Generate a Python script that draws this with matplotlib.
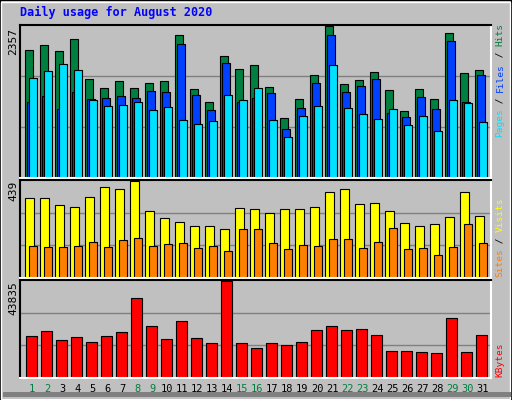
import matplotlib
matplotlib.use("Agg")
import matplotlib.pyplot as plt
from matplotlib.patches import Rectangle

days = list(range(1, 32))
hits = [1982,2052,1971,2148,1537,1393,1505,1393,1473,1505,2212,1377,1184,1891,1682,1746,1409,927,1216,1602,2357,1457,1521,1634,1361,1039,1377,1216,2245,1618,1666]
files = [1184,1264,1071,1329,1216,1232,1264,1232,1345,1329,2068,1280,1055,1779,1184,1232,1312,766,1087,1473,2212,1329,1425,1537,1007,943,1248,1071,2116,1184,1602]
pages = [1554,1650,1762,1666,1200,1120,1136,1184,1055,1104,895,830,879,1280,1200,1393,895,637,959,1120,1746,1087,991,911,1071,814,959,734,1200,1168,862]
visits = [363,363,329,320,367,410,401,439,305,272,253,234,234,220,315,310,296,310,310,320,391,401,334,339,301,248,234,243,277,387,282]
sites = [143,138,138,143,162,138,172,181,143,153,157,134,143,124,220,220,157,129,148,143,177,177,134,162,224,129,134,105,138,243,157]
kbytes = [18877,21277,16958,18397,16478,18877,20797,36155,23676,17437,25596,17917,15998,43835,15998,13598,15998,15038,16478,21757,23676,21757,22237,19357,12158,12158,11678,11198,27036,11678,19357]
weekend = [1,2,8,9,15,16,22,23,29,30]

W, H = 512, 400
fig = plt.figure(figsize=(5.12, 4.0), dpi=100, facecolor="#C0C0C0")
mono = "DejaVu Sans Mono"

fig.patches.append(Rectangle((0, 0), 1, 1, transform=fig.transFigure, fill=False, ec="black", lw=1.5))
fig.patches.append(Rectangle((1/W, 1/H), (W-3)/W, (H-3)/H, transform=fig.transFigure, fill=False, ec="white", lw=1))
fig.patches.append(Rectangle((3/W, 3/H), (W-4)/W, 0.012, transform=fig.transFigure, fill=True, fc="#808080", ec="none"))

def ax_px(x0, y0, x1, y1):
    return fig.add_axes([x0/W, 1-y1/H, (x1-x0)/W, (y1-y0)/H])

XL = (0.147, 31.547)

def style(ax, ymax):
    ax.set_facecolor("#C0C0C0")
    ax.set_xlim(*XL)
    ax.set_ylim(0, ymax)
    ax.set_xticks([]); ax.set_yticks([])
    for y in (ymax/3, 2*ymax/3):
        ax.axhline(y, color="#808080", lw=1, zorder=0)
    ax.spines["left"].set_color("black"); ax.spines["top"].set_color("black")
    ax.spines["right"].set_color("white"); ax.spines["bottom"].set_color("white")
    for s in ax.spines.values(): s.set_linewidth(1.5)

def bars(ax, vals, off, w, color):
    ax.bar([d - 0.5 + off for d in days], vals, width=w, align="edge",
           color=color, edgecolor="black", linewidth=0.8, zorder=2)

ax1 = ax_px(20, 25, 491, 178)
style(ax1, max(hits) * 1.005)
bars(ax1, hits, 0.0, 0.49, "#008040")
bars(ax1, files, 0.133, 0.49, "#0040FF")
bars(ax1, pages, 0.267, 0.49, "#00E0FF")

ax2 = ax_px(20, 180, 491, 278)
style(ax2, max(visits) * 1.01)
bars(ax2, visits, 0.0, 0.56, "#FFFF00")
bars(ax2, sites, 0.267, 0.49, "#FF8000")

ax3 = ax_px(20, 280, 491, 378)
style(ax3, max(kbytes) * 1.01)
bars(ax3, kbytes, 0.067, 0.69, "#FF0000")

fig.text(20/W, 1-12/H, "Daily usage for August 2020", color="#0000FF", family=mono,
         fontweight="bold", fontsize=8.5, va="center", ha="left")

for txt, ytop in (("2357", 28), ("439", 181), ("43835", 281)):
    fig.text(13/W, 1-ytop/H, txt, rotation=90, family=mono, fontsize=8, va="top", ha="center")

def vlabel(pieces, ybottom, fs=6.8):
    cw = 0.6 * fs * 100 / 72
    y = ybottom
    for t, c in pieces:
        fig.text(500/W, 1-y/H, t, rotation=90, family=mono, fontsize=fs, color=c,
                 va="bottom", ha="center")
        y -= cw * len(t)

vlabel([("Pages", "#00E0FF"), (" / ", "#000000"), ("Files", "#0040FF"), (" / ", "#000000"), ("Hits", "#008040")], 137)
vlabel([("Sites", "#FF8000"), (" / ", "#000000"), ("Visits", "#FFFF00")], 277)
vlabel([("KBytes", "#FF0000")], 377)

for d in days:
    xc = 25.3 + 15 * (d - 1) + 7
    fig.text(xc/W, 1-389/H, str(d), family=mono, fontsize=7.5, ha="center", va="center",
             color="#008040" if d in weekend else "black")

fig.savefig("out.png", dpi=100, facecolor=fig.get_facecolor())
